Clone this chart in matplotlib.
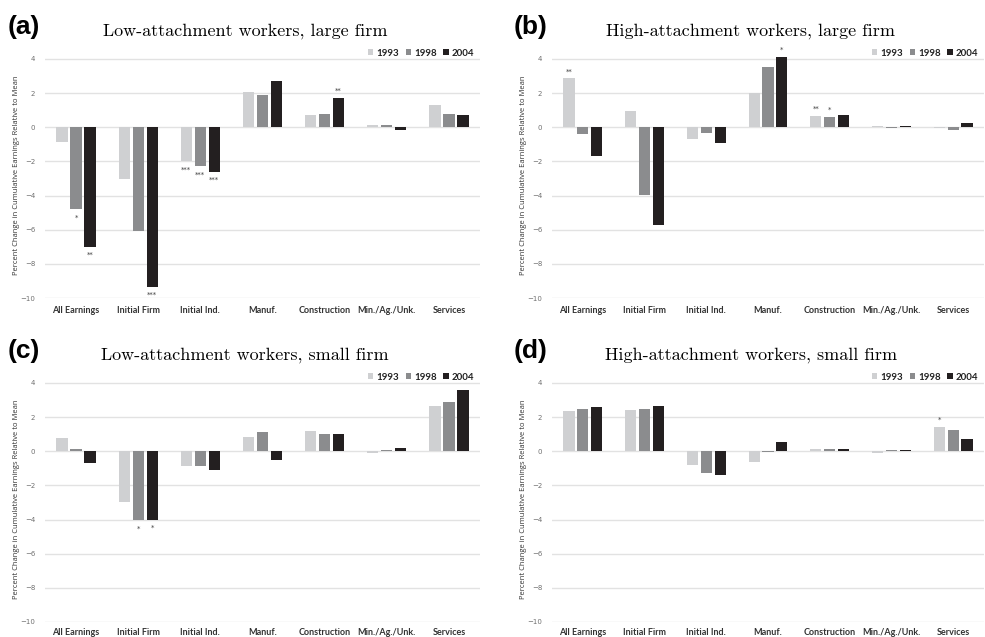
import numpy as np
import matplotlib.pyplot as plt

categories = ["All Earnings", "Initial Firm", "Initial Ind.", "Manuf.",
              "Construction", "Min./Ag./Unk.", "Services"]
years = ["1993", "1998", "2004"]
colors = ["#cfd0d2", "#8b8c8e", "#231f20"]

# panel (a) low-attachment, large firm
a_1993 = [-0.85, -3.05, -2.0, 2.05, 0.7, 0.1, 1.3]
a_1998 = [-4.8, -6.05, -2.3, 1.9, 0.8, 0.1, 0.75]
a_2004 = [-7.0, -9.35, -2.6, 2.7, 1.7, -0.15, 0.7]
a_stars = [(0, 1, "*"), (0, 2, "**"), (1, 2, "***"), (2, 0, "***"),
           (2, 1, "***"), (2, 2, "***"), (4, 2, "**")]

# panel (b) high-attachment, large firm
b_1993 = [2.85, 0.95, -0.7, 2.0, 0.65, 0.05, -0.03]
b_1998 = [-0.4, -3.95, -0.35, 3.5, 0.6, -0.05, -0.15]
b_2004 = [-1.7, -5.75, -0.95, 4.1, 0.7, 0.05, 0.25]
b_stars = [(0, 0, "**"), (3, 2, "*"), (4, 0, "**"), (4, 1, "*")]

# panel (c) low-attachment, small firm
c_1993 = [0.75, -3.0, -0.85, 0.85, 1.2, -0.1, 2.65]
c_1998 = [0.15, -4.05, -0.85, 1.1, 1.0, 0.05, 2.9]
c_2004 = [-0.7, -4.0, -1.1, -0.5, 1.0, 0.2, 3.6]
c_stars = [(1, 1, "*"), (1, 2, "*")]

# panel (d) high-attachment, small firm
d_1993 = [2.35, 2.4, -0.8, -0.65, 0.15, -0.08, 1.4]
d_1998 = [2.45, 2.45, -1.3, -0.05, 0.1, 0.05, 1.25]
d_2004 = [2.6, 2.65, -1.4, 0.55, 0.1, 0.07, 0.7]
d_stars = [(6, 0, "*")]

panels = [
    ("(a)", "Low-attachment workers, large firm", [a_1993, a_1998, a_2004], a_stars),
    ("(b)", "High-attachment workers, large firm", [b_1993, b_1998, b_2004], b_stars),
    ("(c)", "Low-attachment workers, small firm", [c_1993, c_1998, c_2004], c_stars),
    ("(d)", "High-attachment workers, small firm", [d_1993, d_1998, d_2004], d_stars),
]

W, H = 985, 637
fig = plt.figure(figsize=(W / 100, H / 100), dpi=100)

# axes boxes in pixels: left, right, bottom(-10 line), top
boxes = [(45, 480, 298, 52), (552, 984, 298, 52),
         (45, 480, 622, 376), (552, 984, 622, 376)]

width = 0.18
step = 0.225
x = np.arange(len(categories))

for k, ((tag, title, series, stars), (l, r, b, t)) in enumerate(zip(panels, boxes)):
    ax = fig.add_axes([l / W, 1 - b / H, (r - l) / W, (b - t) / H])
    for i, vals in enumerate(series):
        ax.bar(x + (i - 1) * step, vals, width, color=colors[i],
               label=years[i], zorder=3)
    for ci, si, s in stars:
        v = series[si][ci]
        off = 3 if v >= 0 else -8
        ax.annotate(s, (x[ci] + (si - 1) * step, v), xytext=(0, off),
                    textcoords="offset points", ha="center", va="bottom",
                    fontsize=5, color="#404040")
    ax.set_xlim(-0.5, 6.5)
    ax.set_ylim(-10, 4.4)
    ax.set_yticks(range(-10, 5, 2))
    ax.grid(axis="y", color="#e2e2e2", linewidth=1, zorder=0)
    ax.set_xticks(x)
    ax.set_xticklabels(categories, fontsize=6.5, fontfamily="Lato",
                       fontweight="bold", color="#333333")
    ax.tick_params(axis="x", length=0, pad=6 if k < 2 else 4)
    ax.tick_params(axis="y", length=0, pad=7, labelsize=5, labelcolor="#707070")
    for sp in ax.spines.values():
        sp.set_visible(False)
    ax.set_ylabel("Percent Change in Cumulative Earnings Relative to Mean",
                  fontsize=5.5, color="#333333", fontfamily="Open Sans")
    ax.yaxis.set_label_coords(-0.058, 0.5)
    leg = ax.legend(loc="center right", bbox_to_anchor=(1.0, 0.995), ncol=3,
                    frameon=False, handlelength=0.55, handleheight=0.6,
                    handletextpad=0.3, columnspacing=0.7, borderaxespad=0.2,
                    prop={"family": "Lato", "weight": "bold", "size": 7})
    for txt in leg.get_texts():
        txt.set_color("#222222")
    # panel tag and title
    fig.text((l - 21) / W, 1 - (t - 25) / H, tag, fontsize=19,
             fontweight="bold", fontfamily="Liberation Sans",
             va="center", ha="center")
    fig.text((l + (r - l) * 0.46) / W, 1 - (t - 21) / H, title, fontsize=13,
             fontfamily="cmr10", va="center", ha="center")

fig.savefig("out.png", dpi=100)
